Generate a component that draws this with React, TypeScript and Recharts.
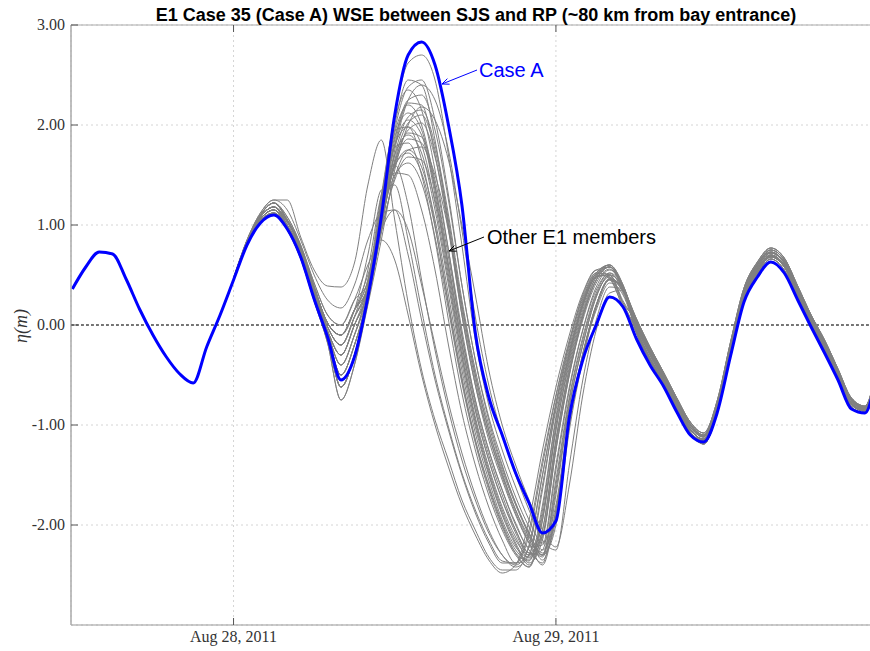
import { LineChart, Line, XAxis, YAxis, CartesianGrid, ReferenceLine } from 'recharts';

// hours relative to Aug 28, 2011 00:00
const hours = Array.from({ length: 61 }, (_, i) => i - 12);

// Case A water surface elevation (m), hourly from -12 h
const caseA = [
  0.36, 0.58, 0.73, 0.71, 0.46, 0.16, -0.10, -0.32, -0.49, -0.58, -0.22, 0.10,
  0.45, 0.80, 1.02, 1.10, 0.96, 0.68, 0.26, -0.12, -0.55, -0.32,
  0.28, 1.08, 2.10, 2.70, 2.83, 2.60, 2.00, 1.20, -0.08, -0.72,
  -1.10, -1.48, -1.78, -2.08, -1.96, -0.92, -0.35, 0.00, 0.28, 0.18,
  -0.14, -0.40, -0.61, -0.87, -1.10, -1.17, -0.88, -0.31, 0.23, 0.48,
  0.63, 0.52, 0.25, -0.02, -0.28, -0.55, -0.84, -0.88, -0.40,
];

// other E1 ensemble members, hourly from 0 h (identical to Case A before that)
const members = [
  [0.45, 0.82, 1.06, 1.15, 0.96, 0.68, 0.26, -0.14, -0.62, -0.30, 0.30, 1.25, 2.10, 2.62, 2.70, 2.45, 1.70, 0.80, -0.15, -0.80, -1.25, -1.62, -1.95, -2.18, -1.80, -0.90, -0.30, 0.15, 0.42, 0.30, -0.06, -0.35, -0.58, -0.84, -1.08, -1.19, -0.88, -0.30, 0.25, 0.51, 0.66, 0.55, 0.28, 0.00, -0.25, -0.54, -0.82, -0.88, -0.42],
  [0.46, 0.83, 1.08, 1.18, 1.00, 0.74, 0.32, -0.06, -0.30, 0.00, 0.35, 1.20, 2.00, 2.45, 2.40, 1.85, 1.00, 0.10, -0.60, -1.10, -1.50, -1.85, -2.15, -2.30, -1.60, -0.75, -0.15, 0.30, 0.48, 0.32, -0.05, -0.33, -0.56, -0.82, -1.05, -1.14, -0.82, -0.24, 0.30, 0.56, 0.70, 0.60, 0.32, 0.04, -0.21, -0.50, -0.78, -0.85, -0.38],
  [0.46, 0.83, 1.08, 1.18, 1.03, 0.76, 0.35, -0.02, -0.20, 0.08, 0.40, 1.25, 2.05, 2.35, 2.15, 1.55, 0.75, -0.10, -0.75, -1.25, -1.65, -1.98, -2.22, -2.20, -1.40, -0.62, -0.05, 0.35, 0.52, 0.34, 0.00, -0.28, -0.52, -0.78, -1.02, -1.12, -0.80, -0.22, 0.32, 0.58, 0.72, 0.62, 0.34, 0.06, -0.19, -0.48, -0.76, -0.84, -0.36],
  [0.45, 0.82, 1.06, 1.15, 0.99, 0.72, 0.30, -0.08, -0.40, -0.10, 0.30, 1.05, 1.80, 2.22, 2.20, 1.70, 0.95, 0.10, -0.60, -1.15, -1.55, -1.90, -2.18, -2.32, -1.65, -0.80, -0.20, 0.28, 0.50, 0.36, -0.08, -0.36, -0.58, -0.84, -1.07, -1.16, -0.85, -0.27, 0.27, 0.53, 0.68, 0.58, 0.30, 0.02, -0.23, -0.52, -0.80, -0.86, -0.40],
  [0.46, 0.84, 1.10, 1.22, 1.05, 0.78, 0.38, 0.02, -0.10, 0.15, 0.38, 1.20, 1.92, 2.20, 2.00, 1.40, 0.60, -0.20, -0.85, -1.35, -1.75, -2.05, -2.28, -2.10, -1.25, -0.50, 0.05, 0.42, 0.56, 0.36, 0.04, -0.24, -0.49, -0.75, -0.99, -1.10, -0.78, -0.19, 0.35, 0.61, 0.75, 0.65, 0.37, 0.08, -0.17, -0.46, -0.74, -0.82, -0.34],
  [0.45, 0.81, 1.04, 1.12, 0.98, 0.70, 0.28, -0.10, -0.50, -0.20, 0.28, 1.00, 1.65, 2.02, 2.10, 1.75, 1.05, 0.20, -0.50, -1.05, -1.45, -1.80, -2.10, -2.35, -1.90, -0.95, -0.30, 0.20, 0.46, 0.38, -0.02, -0.30, -0.54, -0.80, -1.04, -1.15, -0.84, -0.26, 0.28, 0.55, 0.69, 0.59, 0.31, 0.03, -0.22, -0.51, -0.79, -0.86, -0.39],
  [0.46, 0.83, 1.08, 1.18, 1.00, 0.74, 0.32, -0.06, -0.30, 0.00, 0.35, 1.15, 1.80, 2.05, 1.90, 1.30, 0.50, -0.30, -0.95, -1.45, -1.85, -2.15, -2.30, -2.05, -1.15, -0.45, 0.10, 0.45, 0.58, 0.38, 0.06, -0.22, -0.47, -0.73, -0.97, -1.08, -0.76, -0.17, 0.37, 0.63, 0.77, 0.67, 0.39, 0.10, -0.15, -0.44, -0.73, -0.81, -0.33],
  [0.46, 0.84, 1.10, 1.22, 1.05, 0.78, 0.38, 0.02, -0.10, 0.15, 0.45, 1.30, 1.95, 1.98, 1.65, 1.00, 0.20, -0.55, -1.15, -1.60, -1.98, -2.25, -2.35, -1.90, -1.05, -0.35, 0.18, 0.50, 0.58, 0.36, 0.02, -0.26, -0.50, -0.76, -1.00, -1.11, -0.79, -0.20, 0.33, 0.60, 0.73, 0.63, 0.35, 0.07, -0.18, -0.47, -0.75, -0.83, -0.35],
  [0.45, 0.82, 1.06, 1.15, 0.98, 0.70, 0.28, -0.10, -0.50, -0.20, 0.30, 1.00, 1.62, 1.92, 1.88, 1.45, 0.75, -0.05, -0.75, -1.25, -1.65, -2.00, -2.25, -2.38, -1.70, -0.82, -0.20, 0.28, 0.50, 0.38, -0.05, -0.33, -0.56, -0.82, -1.05, -1.14, -0.82, -0.24, 0.30, 0.56, 0.70, 0.60, 0.32, 0.04, -0.21, -0.50, -0.78, -0.85, -0.38],
  [0.46, 0.83, 1.08, 1.18, 1.03, 0.76, 0.35, -0.02, -0.20, 0.08, 0.36, 1.10, 1.70, 1.90, 1.72, 1.15, 0.40, -0.38, -1.02, -1.50, -1.90, -2.20, -2.40, -2.05, -1.15, -0.42, 0.12, 0.48, 0.60, 0.40, 0.00, -0.28, -0.52, -0.78, -1.02, -1.12, -0.80, -0.22, 0.32, 0.58, 0.72, 0.62, 0.34, 0.06, -0.19, -0.48, -0.76, -0.84, -0.36],
  [0.46, 0.84, 1.10, 1.22, 1.08, 0.80, 0.42, 0.10, 0.00, 0.25, 0.42, 1.20, 1.78, 1.82, 1.50, 0.85, 0.05, -0.68, -1.25, -1.70, -2.05, -2.30, -2.42, -1.85, -0.95, -0.30, 0.22, 0.52, 0.60, 0.38, 0.04, -0.24, -0.49, -0.75, -0.99, -1.10, -0.78, -0.19, 0.35, 0.61, 0.75, 0.65, 0.37, 0.08, -0.17, -0.46, -0.74, -0.82, -0.34],
  [0.45, 0.81, 1.04, 1.12, 0.95, 0.66, 0.24, -0.18, -0.75, -0.40, 0.25, 0.92, 1.48, 1.75, 1.78, 1.50, 0.95, 0.20, -0.50, -1.05, -1.48, -1.85, -2.12, -2.30, -2.00, -1.05, -0.35, 0.18, 0.45, 0.38, -0.06, -0.35, -0.58, -0.84, -1.08, -1.19, -0.88, -0.30, 0.25, 0.51, 0.66, 0.55, 0.28, 0.00, -0.25, -0.54, -0.82, -0.88, -0.42],
  [0.45, 0.82, 1.06, 1.15, 0.99, 0.72, 0.30, -0.08, -0.40, -0.10, 0.34, 1.05, 1.58, 1.75, 1.58, 1.05, 0.30, -0.45, -1.08, -1.55, -1.95, -2.22, -2.32, -1.95, -1.05, -0.38, 0.15, 0.48, 0.58, 0.38, -0.02, -0.30, -0.54, -0.80, -1.04, -1.15, -0.84, -0.26, 0.28, 0.55, 0.69, 0.59, 0.31, 0.03, -0.22, -0.51, -0.79, -0.86, -0.39],
  [0.45, 0.82, 1.06, 1.15, 0.96, 0.68, 0.26, -0.14, -0.62, -0.30, 0.30, 0.95, 1.45, 1.68, 1.65, 1.25, 0.60, -0.18, -0.85, -1.35, -1.75, -2.08, -2.30, -2.25, -1.45, -0.65, -0.05, 0.38, 0.55, 0.38, -0.08, -0.36, -0.58, -0.84, -1.07, -1.16, -0.85, -0.27, 0.27, 0.53, 0.68, 0.58, 0.30, 0.02, -0.23, -0.52, -0.80, -0.86, -0.40],
  [0.46, 0.84, 1.10, 1.22, 1.05, 0.78, 0.38, 0.02, -0.10, 0.15, 0.38, 1.05, 1.50, 1.62, 1.42, 0.88, 0.15, -0.58, -1.18, -1.65, -2.02, -2.28, -2.36, -1.80, -0.92, -0.28, 0.22, 0.52, 0.60, 0.38, 0.06, -0.22, -0.47, -0.73, -0.97, -1.08, -0.76, -0.17, 0.37, 0.63, 0.77, 0.67, 0.39, 0.10, -0.15, -0.44, -0.73, -0.81, -0.33],
  [0.45, 0.81, 1.04, 1.12, 0.98, 0.70, 0.28, -0.10, -0.50, -0.20, 0.28, 1.02, 1.70, 2.08, 2.15, 1.80, 1.10, 0.25, -0.45, -1.00, -1.42, -1.78, -2.08, -2.30, -1.95, -1.00, -0.32, 0.20, 0.46, 0.36, 0.02, -0.26, -0.50, -0.76, -1.00, -1.11, -0.79, -0.20, 0.33, 0.60, 0.73, 0.63, 0.35, 0.07, -0.18, -0.47, -0.75, -0.83, -0.35],
  [0.45, 0.82, 1.06, 1.15, 0.96, 0.68, 0.26, -0.14, -0.62, -0.30, 0.32, 1.12, 1.85, 2.25, 2.30, 1.95, 1.25, 0.40, -0.35, -0.92, -1.35, -1.72, -2.02, -2.25, -1.90, -0.98, -0.30, 0.18, 0.45, 0.34, -0.05, -0.33, -0.56, -0.82, -1.05, -1.14, -0.82, -0.24, 0.30, 0.56, 0.70, 0.60, 0.32, 0.04, -0.21, -0.50, -0.78, -0.85, -0.38],
  [0.46, 0.83, 1.08, 1.18, 1.00, 0.74, 0.32, -0.06, -0.30, 0.00, 0.40, 1.18, 1.80, 1.98, 1.80, 1.22, 0.45, -0.32, -0.98, -1.48, -1.88, -2.18, -2.38, -2.15, -1.25, -0.50, 0.08, 0.45, 0.58, 0.38, 0.00, -0.28, -0.52, -0.78, -1.02, -1.12, -0.80, -0.22, 0.32, 0.58, 0.72, 0.62, 0.34, 0.06, -0.19, -0.48, -0.76, -0.84, -0.36],
  [0.45, 0.81, 1.04, 1.12, 0.96, 0.68, 0.26, -0.14, -0.62, -0.30, 0.22, 0.95, 1.75, 2.25, 2.40, 2.25, 1.75, 0.95, 0.08, -0.60, -1.10, -1.50, -1.85, -2.15, -2.25, -1.40, -0.55, 0.05, 0.38, 0.36, -0.06, -0.35, -0.58, -0.84, -1.08, -1.19, -0.88, -0.30, 0.25, 0.51, 0.66, 0.55, 0.28, 0.00, -0.25, -0.54, -0.82, -0.88, -0.42],
  [0.45, 0.81, 1.04, 1.12, 0.95, 0.66, 0.24, -0.18, -0.75, -0.40, 0.20, 0.85, 1.55, 2.00, 2.18, 2.05, 1.65, 1.00, 0.30, -0.45, -1.00, -1.40, -1.75, -2.05, -2.22, -1.60, -0.70, -0.05, 0.32, 0.35, -0.08, -0.36, -0.58, -0.84, -1.07, -1.16, -0.85, -0.27, 0.27, 0.53, 0.68, 0.58, 0.30, 0.02, -0.23, -0.52, -0.80, -0.86, -0.40],
  [0.45, 0.82, 1.06, 1.15, 0.99, 0.72, 0.30, -0.08, -0.40, -0.10, 0.38, 1.18, 1.88, 2.12, 1.95, 1.35, 0.55, -0.25, -0.92, -1.42, -1.82, -2.12, -2.33, -2.12, -1.20, -0.48, 0.08, 0.45, 0.58, 0.38, 0.04, -0.24, -0.49, -0.75, -0.99, -1.10, -0.78, -0.19, 0.35, 0.61, 0.75, 0.65, 0.37, 0.08, -0.17, -0.46, -0.74, -0.82, -0.34],
  [0.46, 0.83, 1.08, 1.18, 1.00, 0.74, 0.32, -0.06, -0.30, 0.00, 0.32, 1.02, 1.60, 1.86, 1.82, 1.38, 0.68, -0.12, -0.80, -1.30, -1.70, -2.05, -2.28, -2.30, -1.55, -0.72, -0.12, 0.32, 0.52, 0.38, -0.02, -0.30, -0.54, -0.80, -1.04, -1.15, -0.84, -0.26, 0.28, 0.55, 0.69, 0.59, 0.31, 0.03, -0.22, -0.51, -0.79, -0.86, -0.39],
  [0.45, 0.82, 1.06, 1.15, 0.98, 0.70, 0.28, -0.10, -0.50, -0.20, 0.30, 1.15, 1.95, 2.38, 2.45, 2.05, 1.30, 0.40, -0.35, -0.95, -1.40, -1.78, -2.08, -2.28, -1.85, -0.95, -0.28, 0.20, 0.46, 0.34, 0.06, -0.22, -0.47, -0.73, -0.97, -1.08, -0.76, -0.17, 0.37, 0.63, 0.77, 0.67, 0.39, 0.10, -0.15, -0.44, -0.73, -0.81, -0.33],
  [0.46, 0.84, 1.10, 1.22, 1.05, 0.78, 0.38, 0.02, -0.10, 0.15, 0.45, 1.15, 1.52, 1.50, 1.15, 0.55, -0.20, -0.88, -1.40, -1.82, -2.15, -2.38, -2.30, -1.65, -0.80, -0.18, 0.30, 0.55, 0.58, 0.36, 0.02, -0.26, -0.50, -0.76, -1.00, -1.11, -0.79, -0.20, 0.33, 0.60, 0.73, 0.63, 0.35, 0.07, -0.18, -0.47, -0.75, -0.83, -0.35],
  [0.45, 0.81, 1.04, 1.12, 0.96, 0.68, 0.26, -0.14, -0.62, -0.30, 0.25, 0.98, 1.62, 1.95, 2.02, 1.68, 1.00, 0.15, -0.55, -1.10, -1.52, -1.88, -2.18, -2.40, -1.85, -0.95, -0.30, 0.20, 0.46, 0.36, -0.05, -0.33, -0.56, -0.82, -1.05, -1.14, -0.82, -0.24, 0.30, 0.56, 0.70, 0.60, 0.32, 0.04, -0.21, -0.50, -0.78, -0.85, -0.38],
  [0.46, 0.83, 1.08, 1.18, 1.03, 0.76, 0.35, -0.02, -0.20, 0.08, 0.40, 1.10, 1.60, 1.72, 1.52, 0.98, 0.22, -0.52, -1.15, -1.62, -2.00, -2.28, -2.42, -1.95, -1.00, -0.32, 0.20, 0.50, 0.60, 0.40, 0.00, -0.28, -0.52, -0.78, -1.02, -1.12, -0.80, -0.22, 0.32, 0.58, 0.72, 0.62, 0.34, 0.06, -0.19, -0.48, -0.76, -0.84, -0.36],
  [0.47, 0.85, 1.12, 1.25, 1.25, 0.88, 0.55, 0.39, 0.38, 0.62, 1.40, 1.85, 1.05, 0.22, -0.45, -0.95, -1.35, -1.75, -2.05, -2.32, -2.45, -2.45, -2.20, -1.50, -0.80, -0.25, 0.20, 0.48, 0.50, 0.22, -0.05, -0.33, -0.56, -0.82, -1.05, -1.14, -0.82, -0.24, 0.30, 0.56, 0.70, 0.60, 0.32, 0.04, -0.21, -0.50, -0.78, -0.85, -0.38],
  [0.47, 0.85, 1.12, 1.25, 1.15, 0.85, 0.50, 0.25, 0.17, 0.40, 0.85, 1.12, 1.15, 0.70, 0.05, -0.55, -1.05, -1.50, -1.88, -2.18, -2.38, -2.38, -2.05, -1.35, -0.70, -0.15, 0.28, 0.52, 0.46, 0.18, -0.08, -0.36, -0.58, -0.84, -1.07, -1.16, -0.85, -0.27, 0.27, 0.53, 0.68, 0.58, 0.30, 0.02, -0.23, -0.52, -0.80, -0.86, -0.40],
  [0.46, 0.84, 1.10, 1.22, 1.08, 0.80, 0.42, 0.10, 0.00, 0.25, 0.60, 0.85, 0.65, 0.10, -0.50, -1.00, -1.42, -1.80, -2.10, -2.35, -2.48, -2.40, -1.95, -1.25, -0.62, -0.10, 0.32, 0.55, 0.48, 0.18, -0.02, -0.30, -0.54, -0.80, -1.04, -1.15, -0.84, -0.26, 0.28, 0.55, 0.69, 0.59, 0.31, 0.03, -0.22, -0.51, -0.79, -0.86, -0.39],
  [0.46, 0.84, 1.10, 1.22, 1.05, 0.78, 0.38, 0.02, -0.10, 0.15, 0.70, 1.35, 1.40, 0.85, 0.15, -0.50, -1.02, -1.48, -1.85, -2.15, -2.36, -2.38, -2.10, -1.40, -0.72, -0.18, 0.26, 0.50, 0.48, 0.20, -0.06, -0.35, -0.58, -0.84, -1.08, -1.19, -0.88, -0.30, 0.25, 0.51, 0.66, 0.55, 0.28, 0.00, -0.25, -0.54, -0.82, -0.88, -0.42],
  [0.46, 0.83, 1.08, 1.18, 1.03, 0.76, 0.35, -0.02, -0.20, 0.08, 0.55, 1.30, 1.60, 1.20, 0.45, -0.25, -0.85, -1.35, -1.75, -2.08, -2.30, -2.40, -2.22, -1.50, -0.78, -0.22, 0.24, 0.52, 0.50, 0.22, 0.04, -0.24, -0.49, -0.75, -0.99, -1.10, -0.78, -0.19, 0.35, 0.61, 0.75, 0.65, 0.37, 0.08, -0.17, -0.46, -0.74, -0.82, -0.34],
  [0.46, 0.83, 1.08, 1.18, 1.05, 0.78, 0.38, 0.02, -0.10, 0.15, 0.50, 0.95, 1.15, 0.95, 0.40, -0.20, -0.78, -1.28, -1.70, -2.05, -2.30, -2.42, -2.30, -1.60, -0.85, -0.28, 0.20, 0.48, 0.50, 0.24, 0.02, -0.26, -0.50, -0.76, -1.00, -1.11, -0.79, -0.20, 0.33, 0.60, 0.73, 0.63, 0.35, 0.07, -0.18, -0.47, -0.75, -0.83, -0.35],
];

const dayTicks = [0, 24];
const dayLabels = ['Aug 28, 2011', 'Aug 29, 2011'];
const levelTicks = [-2, -1, 0, 1, 2, 3];

const data = hours.map((t, i) => {
  const row: Record<string, number> = { t, caseA: caseA[i] };
  if (t >= 0) members.forEach((m, k) => { row['m' + k] = m[t]; });
  return row;
});

const serif = '"Liberation Serif", "Times New Roman", serif';
const sans = '"Liberation Sans", Arial, sans-serif';

function LevelTick({ x, y, payload }: any) {
  return (
    <g>
      <line x1={x} x2={x + 7} y1={y} y2={y} stroke="#555" />
      <text x={x - 6} y={y + 5} textAnchor="end" fontFamily={serif} fontSize={16} fill="#333">
        {Number(payload.value).toFixed(2)}
      </text>
    </g>
  );
}

function DayTick({ x, y, payload }: any) {
  const idx = dayTicks.indexOf(payload.value);
  return (
    <g>
      <line x1={x} x2={x} y1={y} y2={y - 7} stroke="#555" />
      <text x={x} y={y + 17} textAnchor="middle" fontFamily={serif} fontSize={16} fill="#333">
        {dayLabels[idx]}
      </text>
    </g>
  );
}

function Arrow({ x1, y1, x2, y2, color }: { x1: number; y1: number; x2: number; y2: number; color: string }) {
  const len = Math.hypot(x2 - x1, y2 - y1);
  const ux = (x2 - x1) / len;
  const uy = (y2 - y1) / len;
  const bx = x2 - 7 * ux;
  const by = y2 - 7 * uy;
  const nx = uy * 3;
  const ny = -ux * 3;
  return (
    <g stroke={color} fill="none" strokeWidth={1}>
      <line x1={x1} y1={y1} x2={x2} y2={y2} />
      <polyline points={`${bx + nx},${by + ny} ${x2},${y2} ${bx - nx},${by - ny}`} />
    </g>
  );
}

export default function App() {
  return (
    <div style={{ position: 'absolute', left: 0, top: 0, width: 870, height: 651, overflow: 'hidden', background: '#fff' }}>
      <LineChart width={881} height={651} data={data} margin={{ top: 25, right: 0, bottom: 0, left: 0 }}>
        <CartesianGrid stroke="#d4d4d4" strokeDasharray="2 3" />
        <XAxis
          dataKey="t"
          type="number"
          domain={[-12.1, 48.2]}
          ticks={dayTicks}
          allowDataOverflow
          height={26}
          tickSize={0}
          tickMargin={0}
          tickLine={false}
          axisLine={{ stroke: '#999' }}
          tick={<DayTick />}
        />
        <YAxis
          type="number"
          domain={[-3, 3]}
          ticks={levelTicks}
          width={71}
          tickSize={0}
          tickMargin={0}
          tickLine={false}
          axisLine={{ stroke: '#aaa', strokeWidth: 1.5 }}
          tick={<LevelTick />}
        />
        <ReferenceLine y={3} stroke="#aaa" />
        {dayTicks.map((d) => (
          <ReferenceLine key={d} segment={[{ x: d, y: 3 }, { x: d, y: 2.93 }]} stroke="#555" />
        ))}
        <ReferenceLine y={0} stroke="#000" strokeDasharray="3 2" />
        {members.map((_, k) => (
          <Line
            key={k}
            type="monotone"
            dataKey={'m' + k}
            stroke="#808080"
            strokeWidth={1}
            dot={false}
            isAnimationActive={false}
          />
        ))}
        <Line type="monotone" dataKey="caseA" stroke="#0000ff" strokeWidth={3} dot={false} isAnimationActive={false} />
      </LineChart>
      <svg width={870} height={651} style={{ position: 'absolute', left: 0, top: 0, pointerEvents: 'none' }}>
        <text x={476} y={21} textAnchor="middle" fontFamily={sans} fontWeight="bold" fontSize={18} fill="#000">
          E1 Case 35 (Case A) WSE between SJS and RP (~80 km from bay entrance)
        </text>
        <text
          transform="translate(27,326) rotate(-90)"
          textAnchor="middle"
          fontFamily={serif}
          fontStyle="italic"
          fontSize={18}
          fill="#333"
        >
          η(m)
        </text>
        <text x={479} y={77} fontFamily={sans} fontSize={20} fill="#0000ff">Case A</text>
        <Arrow x1={477} y1={70} x2={442} y2={84} color="#0000ff" />
        <text x={487} y={244} fontFamily={sans} fontSize={20} fill="#000">Other E1 members</text>
        <Arrow x1={484} y1={237} x2={449} y2={251} color="#000" />
      </svg>
    </div>
  );
}
